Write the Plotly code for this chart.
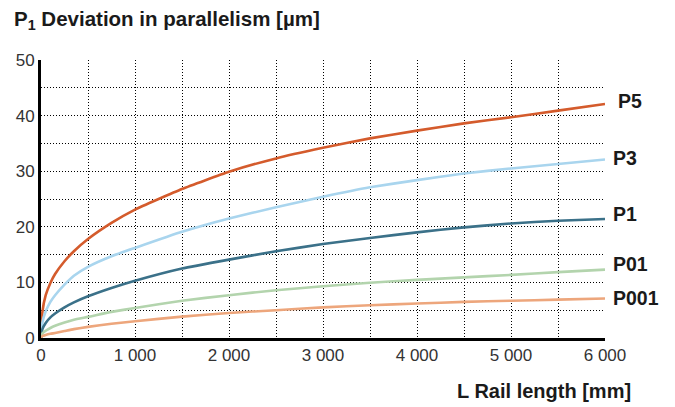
import plotly.graph_objects as go

# Rail length [mm]
rail_length = [0, 15, 50, 100, 150, 250, 350, 500, 750, 1000, 1500, 2000,
               2500, 3000, 3500, 4000, 4500, 5000, 5500, 6000]

# Deviation in parallelism [µm] per accuracy class
p5 = [0, 4.7, 7.7, 9.9, 11.5, 13.8, 15.6, 17.8, 20.7, 23.1, 26.8, 29.9,
      32.3, 34.2, 35.9, 37.3, 38.6, 39.7, 40.9, 42.1]
p3 = [0, 2.8, 4.8, 6.5, 7.7, 9.6, 11.2, 12.8, 14.7, 16.2, 19.1, 21.5,
      23.5, 25.4, 27.1, 28.4, 29.6, 30.5, 31.3, 32.1]
p1 = [0, 1.6, 2.7, 3.7, 4.4, 5.5, 6.4, 7.5, 9.0, 10.3, 12.5, 14.1,
      15.6, 16.9, 18.0, 19.0, 19.9, 20.6, 21.1, 21.4]
p01 = [0, 0.8, 1.3, 1.8, 2.2, 2.8, 3.3, 3.8, 4.7, 5.4, 6.7, 7.7,
       8.6, 9.3, 9.95, 10.45, 10.9, 11.35, 11.85, 12.3]
p001 = [0, 0.35, 0.55, 0.75, 0.9, 1.25, 1.6, 2.0, 2.55, 3.0, 3.85, 4.5,
        5.0, 5.5, 5.9, 6.2, 6.5, 6.7, 6.9, 7.1]

series_names = ["P5", "P3", "P1", "P01", "P001"]
series_values = [p5, p3, p1, p01, p001]
series_colors = ["#d45b2c", "#a9d5ee", "#3b7189", "#b3d4ad", "#eda67c"]
label_yshift = [3, 1.5, 5, 6, 0.5]
label_xshift = [11, 6, 6, 6, 6]

x_tickvals = [0, 1000, 2000, 3000, 4000, 5000, 6000]
x_ticktext = ["0", "1 000", "2 000", "3 000", "4 000", "5 000", "6 000"]
x_minor_vals = [500, 1500, 2500, 3500, 4500, 5500]
y_tickvals = [0, 10, 20, 30, 40, 50]
y_ticktext = ["0", "10", "20", "30", "40", "50"]
y_minor_vals = [5, 15, 25, 35, 45]

FONT = "Liberation Sans, Arial, Helvetica, sans-serif"
DASH = "1px,2px"

fig = go.Figure()
for name, vals, col in zip(series_names, series_values, series_colors):
    fig.add_trace(go.Scatter(x=rail_length, y=vals, mode="lines", name=name,
                             line=dict(color=col, width=2.6, shape="spline", smoothing=0.4),
                             showlegend=False, hoverinfo="x+y+name"))

for name, vals, ys, xs in zip(series_names, series_values, label_yshift, label_xshift):
    fig.add_annotation(x=rail_length[-1], y=vals[-1], text="<b>" + name + "</b>",
                       xref="x", yref="y", xanchor="left", yanchor="middle",
                       xshift=xs, yshift=ys, showarrow=False,
                       font=dict(family=FONT, size=19.5, color="#1a1a1a"))

fig.add_annotation(text="<b>P<sub>1</sub> Deviation in parallelism [µm]</b>",
                   xref="paper", yref="paper", x=-0.0514, y=1.144,
                   xanchor="left", yanchor="middle", showarrow=False,
                   font=dict(family=FONT, size=20.5, color="#1a1a1a"))
fig.add_annotation(text="<b>L Rail length [mm]</b>",
                   xref="paper", yref="paper", x=1.05, y=-0.19,
                   xanchor="right", yanchor="middle", showarrow=False,
                   font=dict(family=FONT, size=20, color="#1a1a1a"))

# The page body adds an 8px offset, so the figure is 8px smaller on each axis
fig.update_layout(
    width=667, height=399,
    margin=dict(l=33, r=70, t=52, b=69, autoexpand=False),
    paper_bgcolor="white", plot_bgcolor="white",
    font=dict(family=FONT, size=17, color="#333333"),
)

grid_style = dict(showgrid=True, gridcolor="#000000", gridwidth=1, griddash=DASH)

fig.update_xaxes(range=[0, 6000], tickvals=x_tickvals, ticktext=x_ticktext,
                 automargin=False, **grid_style,
                 minor=dict(tickvals=x_minor_vals, **grid_style),
                 showline=True, linecolor="#000000", linewidth=3,
                 zeroline=False, ticks="", tickfont=dict(size=17, color="#333333"))
fig.update_yaxes(range=[0, 50], tickvals=y_tickvals, ticktext=y_ticktext,
                 automargin=False, **grid_style,
                 minor=dict(tickvals=y_minor_vals, **grid_style),
                 showline=True, linecolor="#000000", linewidth=3,
                 zeroline=False, ticks="", tickfont=dict(size=17, color="#333333"))

fig.write_html("out.html")
